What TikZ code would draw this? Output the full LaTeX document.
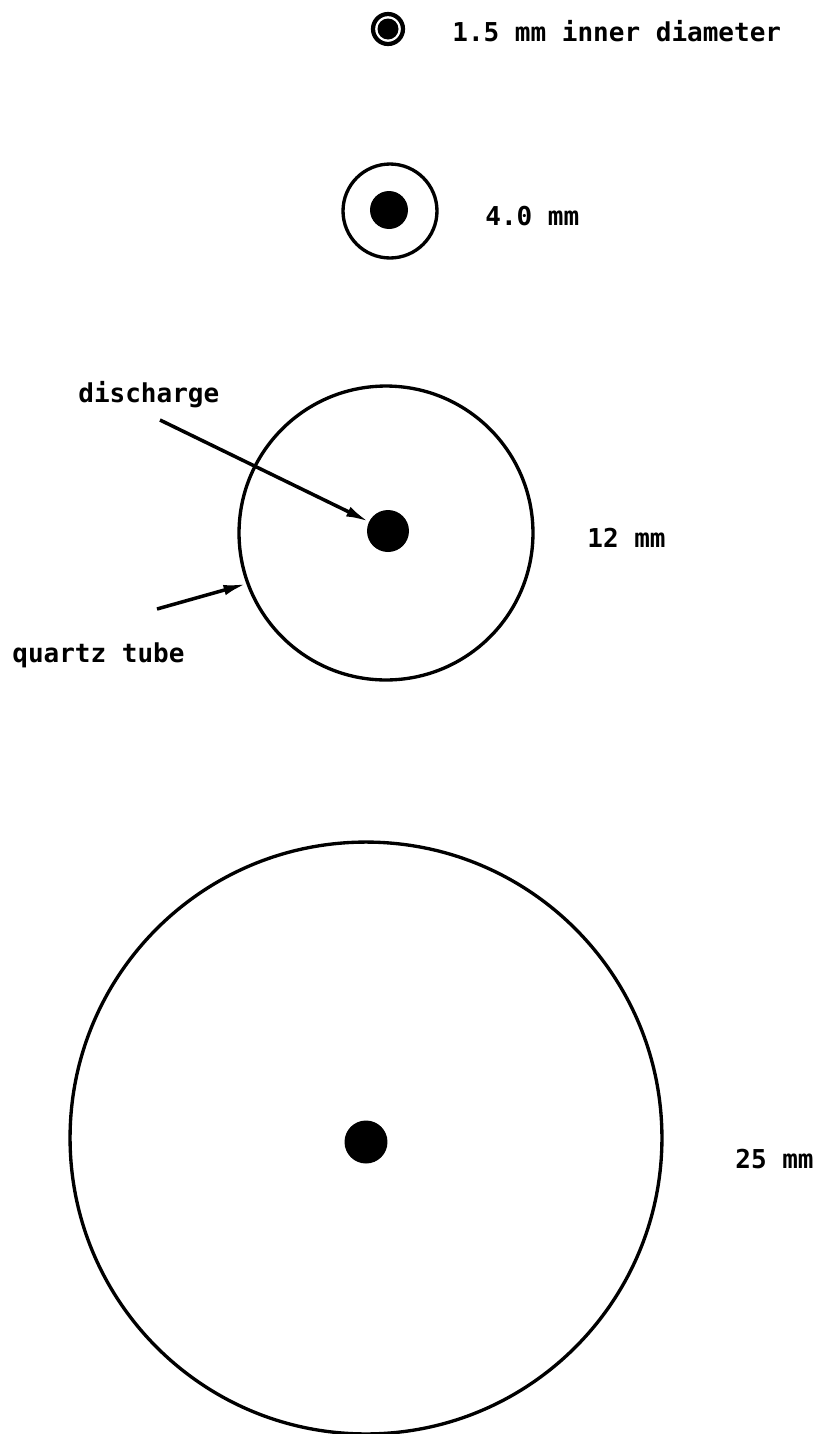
\documentclass[tikz,border=0pt]{standalone}
\usepackage{fontspec}
\setmonofont{DejaVu Sans Mono}
\usetikzlibrary{arrows.meta}

\begin{document}
\begin{tikzpicture}[x=0.02cm,y=-0.02cm,
    tube/.style={circle,draw,line width=1.9pt,inner sep=0pt},
    core/.style={circle,fill,inner sep=0pt},
    lbl/.style={anchor=base west,inner sep=0pt,font=\ttfamily\bfseries\fontsize{14.8}{18}\selectfont},
    pointer/.style={line width=2pt,-{Latex[length=13pt,width=6pt]}}]
  \useasboundingbox (0,0) rectangle (819,1434);
  \node[tube,line width=2.4pt,minimum size=0.6cm] (tubeA) at (388,29) {};
  \node[core,minimum size=0.42cm] (coreA) at (388,29) {};
  \node[lbl] (sizeA) at (452,41) {1.5 mm inner diameter};
  \node[tube,minimum size=1.88cm] (tubeB) at (390,211) {};
  \node[core,minimum size=0.76cm] (coreB) at (389,210) {};
  \node[lbl] (sizeB) at (485,225) {4.0 mm};
  \node[tube,minimum size=5.88cm] (tubeC) at (386,533) {};
  \node[core,minimum size=0.84cm] (coreC) at (388,531) {};
  \node[lbl] (sizeC) at (587,547) {12 mm};
  \node[lbl] (discharge) at (78,402) {discharge};
  \node[lbl] (quartz) at (12,662) {quartz tube};
  \coordinate (dischargeTail) at (160,420);
  \coordinate (quartzTail) at (157,609);
  \draw[pointer] (dischargeTail) -- (coreC);
  \draw[pointer] (quartzTail) -- (tubeC.200);
  \node[tube,minimum size=11.84cm] (tubeD) at (366,1138) {};
  \node[core,minimum size=0.86cm] (coreD) at (366,1142) {};
  \node[lbl] (sizeD) at (735,1168) {25 mm};
\end{tikzpicture}
\end{document}
